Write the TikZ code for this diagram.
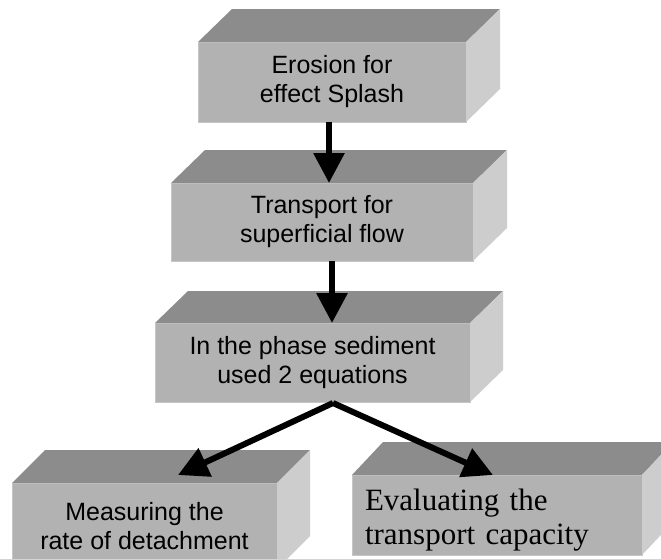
\documentclass[tikz,border=0pt]{standalone}
\usepackage{fontspec}
\setmainfont{Liberation Serif}
\newfontfamily\arialfont{Liberation Sans}
\usetikzlibrary{arrows.meta,calc}
\definecolor{frontc}{HTML}{B2B2B2}
\definecolor{topc}{HTML}{8C8C8C}
\definecolor{sidec}{HTML}{CDCDCD}
\definecolor{edgec}{HTML}{C6C6C6}
\tikzset{
  face/.style={fill=frontc, draw=edgec, line width=1pt, inner sep=0pt, outer sep=0pt, anchor=north west},
  sanslabel/.style={font=\arialfont\fontsize{25}{29}\selectfont, align=center},
  seriflabel/.style={font=\fontsize{31}{34}\selectfont, align=left, inner xsep=13pt},
  flowarrow/.style={line width=6pt, -{Triangle[length=30pt,width=30pt]}},
}
% #1 name, #2 x, #3 y (top-left of front), #4 width, #5 height, #6 dx, #7 dy, #8 style, #9 text
\newcommand\cuboid[9]{%
  \node[face, #8, minimum width=#4pt, minimum height=#5pt] (#1) at (#2,#3) {#9};
  \fill[topc] (#1.north west) -- ++(#6,-#7) -- ++(#4,0) -- (#1.north east) -- cycle;
  \fill[sidec] (#1.north east) -- ++(#6,-#7) -- ++(0,#5) -- (#1.south east) -- cycle;
}
\begin{document}
\begin{tikzpicture}[x=1pt,y=-1pt]
  \fill[white] (0,0) rectangle (661,558);
  \useasboundingbox (0,0) rectangle (661,558);
  \cuboid{b1}{198}{42}{268}{80}{34}{33}{sanslabel}{Erosion for\\effect Splash}
  \cuboid{b2}{171}{183}{302}{78}{34}{33}{sanslabel}{Transport for\\superficial flow}
  \cuboid{b3}{155}{323}{315}{79}{33}{32}{sanslabel}{In the phase sediment\\used 2 equations}
  \cuboid{b4}{12}{483}{265}{86}{33}{33}{sanslabel}{Measuring the\\rate of detachment}
  \cuboid{b5}{352}{475}{290}{80}{31}{33}{seriflabel, text width=264pt}{\rule{0pt}{31pt}Evaluating the\\transport capacity}
  \draw[flowarrow] ($(b1.south)+(-3,0)$) -- ($(b2.north)+(7,0)$);
  \draw[flowarrow] ($(b2.south)+(10,0)$) -- ($(b3.north)+(19.5,0)$);
  \coordinate (split) at ($(b3.south)+(20.5,1)$);
  \draw[flowarrow] (split) -- ($(b4.north)+(33.5,-8)$);
  \draw[flowarrow] (split) -- ($(b5.north)+(-4,0)$);
\end{tikzpicture}
\end{document}
